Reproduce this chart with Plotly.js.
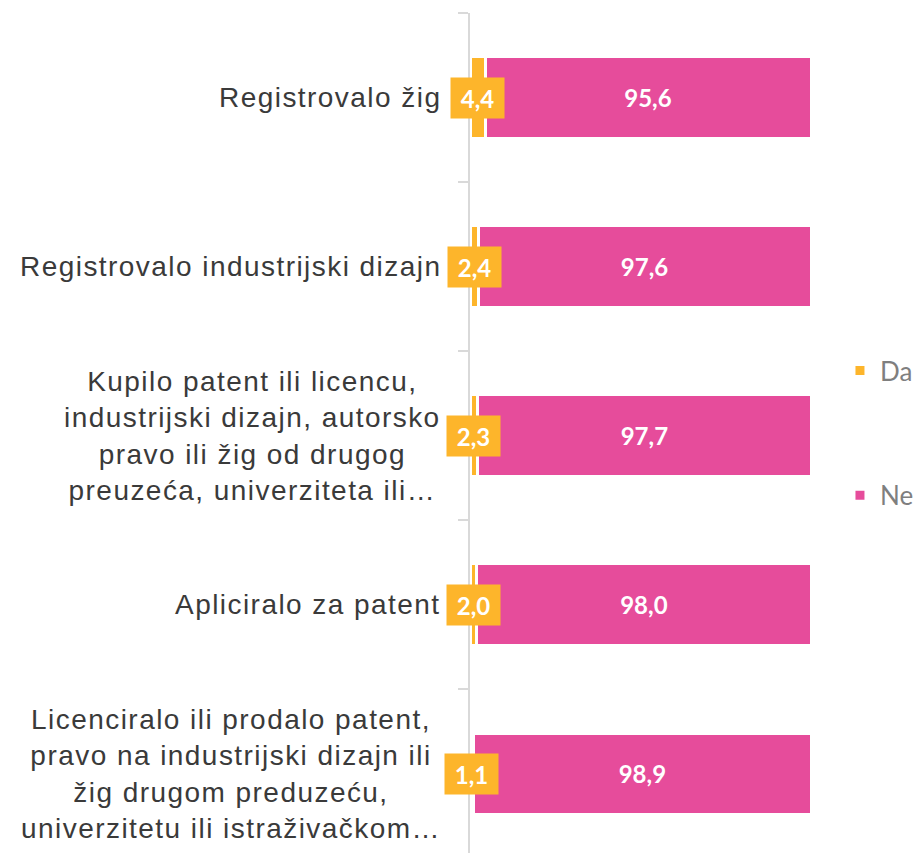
<!DOCTYPE html>
<html>
<head>
<meta charset="utf-8">
<script src="https://cdn.plot.ly/plotly-3.0.1.min.js"></script>
<style>
html,body{margin:0;padding:0;background:#fff;}
text.annotation-text[style*="Liberation"]{letter-spacing:1.45px;}
</style>
</head>
<body>
<div id="chart" style="width:915px;height:853px;"></div>
<script>
const categories = [
  "Registrovalo žig",
  "Registrovalo industrijski dizajn",
  "Kupilo patent ili licencu,<br>industrijski dizajn, autorsko<br>pravo ili žig od drugog<br>preuzeća, univerziteta ili…",
  "Apliciralo za patent",
  "Licenciralo ili prodalo patent,<br>pravo na industrijski dizajn ili<br>žig drugom preduzeću,<br>univerzitetu ili istraživačkom…"
];
const daValues = [4.4, 2.4, 2.3, 2.0, 1.1];
const neValues = [95.6, 97.6, 97.7, 98.0, 98.9];
const seriesNames = ["Da", "Ne"];

const YELLOW = "#FDB52B";
const PINK = "#E64C9B";

const traces = [
  {
    type: "bar", orientation: "h", name: seriesNames[0], legendgroup: "a",
    y: categories, x: daValues,
    marker: {color: YELLOW, line: {color: "#ffffff", width: 3}},
    textposition: "none", hoverinfo: "x+name"
  },
  {
    type: "bar", orientation: "h", name: seriesNames[1], legendgroup: "b",
    y: categories, x: neValues,
    marker: {color: PINK, line: {color: "#ffffff", width: 3}},
    text: neValues, texttemplate: "%{x:.1f}", textposition: "inside",
    insidetextanchor: "middle", constraintext: "none",
    textfont: {family: "Lato", size: 24, color: "#ffffff", weight: "bold"},
    hoverinfo: "x+name"
  }
];

const annotations = [];
categories.forEach((c, i) => {
  annotations.push({
    xref: "paper", yref: "y", x: 0, y: c, xanchor: "right", yanchor: "middle",
    xshift: -27, align: "center", showarrow: false, text: c,
    font: {family: "Liberation Sans, Arial", size: 28, color: "#3a3a3a"}
  });
  annotations.push({
    xref: "x", yref: "y", x: daValues[i] / 2, y: c, xanchor: "center", yanchor: "middle",
    showarrow: false, text: daValues[i].toFixed(1).replace(".", ","),
    bgcolor: YELLOW, width: 51, height: 38,
    font: {family: "Lato", size: 24, color: "#ffffff", weight: "bold"}
  });
});

const layout = {
  width: 915, height: 853,
  margin: {l: 470, r: 104, t: 13, b: 0, autoexpand: false},
  paper_bgcolor: "#ffffff", plot_bgcolor: "#ffffff",
  barmode: "stack", bargap: 0.52,
  separators: ",.",
  showlegend: true,
  legend: {
    xref: "container", x: 0.918, xanchor: "left", y: 0.5, yanchor: "middle",
    traceorder: "grouped", tracegroupgap: 88,
    font: {family: "Lato", size: 26, color: "#7f7f7f"}
  },
  xaxis: {range: [0, 100], visible: false, fixedrange: true},
  yaxis: {
    type: "category", range: [4.47, -0.5],
    showticklabels: false, showgrid: false, zeroline: false,
    showline: true, linecolor: "#d9d9d9", linewidth: 2,
    ticks: "outside", ticklen: 10, tickwidth: 2, tickcolor: "#d9d9d9",
    tickson: "boundaries"
  },
  annotations: annotations
};

Plotly.newPlot("chart", traces, layout, {displayModeBar: false, staticPlot: true});
</script>
</body>
</html>
